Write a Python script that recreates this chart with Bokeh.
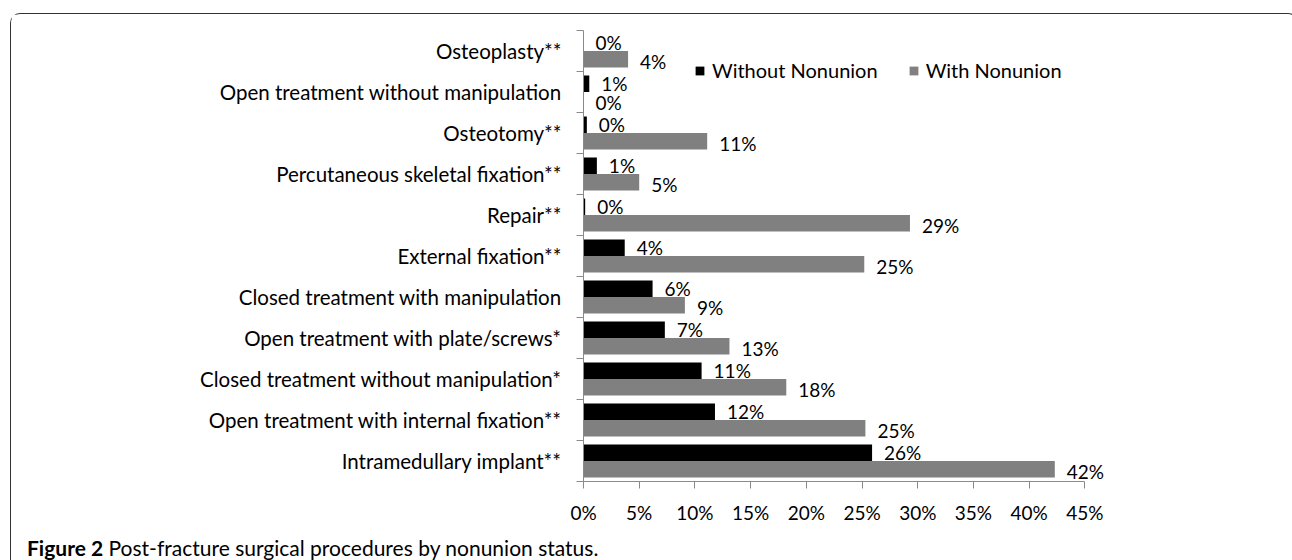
from bokeh.plotting import figure
from bokeh.layouts import column
from bokeh.models import (Range1d, FixedTicker, PrintfTickFormatter, ColumnDataSource,
                          LabelSet, Div)
from bokeh.core.properties import value
from bokeh.embed import file_html
from bokeh.resources import INLINE

# ---------------- data (top to bottom as in the chart) ----------------
categories = [
    "Osteoplasty**",
    "Open treatment without manipulation",
    "Osteotomy**",
    "Percutaneous skeletal fixation**",
    "Repair**",
    "External fixation**",
    "Closed treatment with manipulation",
    "Open treatment with plate/screws*",
    "Closed treatment without manipulation*",
    "Open treatment with internal fixation**",
    "Intramedullary implant**",
]
without_nonunion = [0.0, 0.52, 0.3, 1.2, 0.15, 3.7, 6.2, 7.3, 10.6, 11.8, 25.9]
with_nonunion = [4.0, 0.0, 11.1, 5.0, 29.3, 25.2, 9.1, 13.1, 18.2, 25.3, 42.3]
x_ticks = [0, 5, 10, 15, 20, 25, 30, 35, 40, 45]
series_names = ["Without Nonunion", "With Nonunion"]
caption_bold = "Figure 2"
caption_text = "Post-fracture surgical procedures by nonunion status."

# ---------------- layout ----------------
FONT = "Lato"
W, H = 1276, 512
FRAME_LEFT, FRAME_TOP = 572, 16
FRAME_H = 452
PX_PER_PCT = 11.142
x_end = (W - FRAME_LEFT) / PX_PER_PCT

n = len(categories)
ypos = [n - 1 - i for i in range(n)]
src = ColumnDataSource(dict(
    cat=categories,
    y=ypos,
    y_wo=[y + 0.2 for y in ypos],
    y_w=[y - 0.2 for y in ypos],
    wo=without_nonunion,
    w=with_nonunion,
    wo_lbl=[f"{v:.0f}%" for v in without_nonunion],
    w_lbl=[f"{v:.0f}%" for v in with_nonunion],
))

p = figure(width=W, height=H, x_range=Range1d(0, x_end), y_range=Range1d(-0.5, n - 0.5),
           output_backend="svg", toolbar_location=None,
           min_border_left=FRAME_LEFT, min_border_top=FRAME_TOP,
           min_border_bottom=H - FRAME_TOP - FRAME_H, min_border_right=0)
p.outline_line_color = None
p.xgrid.visible = False
p.ygrid.visible = False
p.background_fill_color = "white"
p.border_fill_color = "white"

p.hbar(y="y_wo", right="wo", left=0, height=0.4, fill_color="black", line_color=None,
       source=src, legend_label=series_names[0])
p.hbar(y="y_w", right="w", left=0, height=0.4, fill_color="#808080", line_color=None,
       source=src, legend_label=series_names[1])

lbl_kw = dict(x_offset=12, text_align="left", text_baseline="middle",
              text_font=value(FONT), text_font_size="19px", text_color="black")
p.add_layout(LabelSet(x="wo", y="y_wo", text="wo_lbl", source=src, **lbl_kw))
p.add_layout(LabelSet(x="w", y="y_w", text="w_lbl", source=src, y_offset=-2, **lbl_kw))

AXIS_GRAY = "#8a8a8a"
# x axis
xa = p.xaxis[0]
xa.ticker = FixedTicker(ticks=x_ticks)
xa.formatter = PrintfTickFormatter(format="%d%%")
xa.bounds = (x_ticks[0], x_ticks[-1])
xa.axis_line_color = AXIS_GRAY
xa.major_tick_line_color = AXIS_GRAY
xa.major_tick_out = 7
xa.major_tick_in = 0
xa.minor_tick_line_color = None
xa.major_label_standoff = 12
xa.major_label_text_font = FONT
xa.major_label_text_font_size = "19px"
xa.major_label_text_color = "black"

# y axis
ya = p.yaxis[0]
ya.ticker = FixedTicker(ticks=ypos, minor_ticks=[y - 0.5 for y in ypos] + [n - 0.5])
ya.major_label_overrides = {y: c for y, c in zip(ypos, categories)}
ya.axis_line_color = AXIS_GRAY
ya.major_tick_line_color = None
ya.major_tick_out = 0
ya.major_tick_in = 0
ya.minor_tick_line_color = AXIS_GRAY
ya.minor_tick_out = 7
ya.minor_tick_in = 0
ya.major_label_standoff = 15
ya.major_label_text_font = FONT
ya.major_label_text_font_size = "20.5px"
ya.major_label_text_color = "black"

# legend
lg = p.legend[0]
lg.orientation = "horizontal"
lg.location = (111, 399)
lg.glyph_width = 11
lg.glyph_height = 11
lg.label_standoff = 7
lg.spacing = 30
lg.padding = 0
lg.margin = 0
lg.border_line_color = None
lg.background_fill_alpha = 0
lg.label_text_font = FONT
lg.label_text_font_size = "20px"
lg.label_text_color = "black"

# caption
caption = Div(
    text=(f'<span style="position:relative; top:0px; left:11px; white-space:nowrap;">'
          f'<b>{caption_bold}</b>&nbsp;{caption_text}</span>'),
    width=W, height=33,
    styles={"font-family": FONT, "font-size": "21px", "line-height": "33px", "color": "black"},
)

layout = column(p, caption, spacing=0,
                styles={"margin-left": "10px", "margin-top": "13px",
                        "border-top": "1.5px solid #333333",
                        "border-left": "1.5px solid #333333",
                        "border-right": "1.5px solid #333333",
                        "border-radius": "10px 10px 0 0",
                        "background": "white"})

open("out.html", "w").write(file_html(layout, INLINE))
